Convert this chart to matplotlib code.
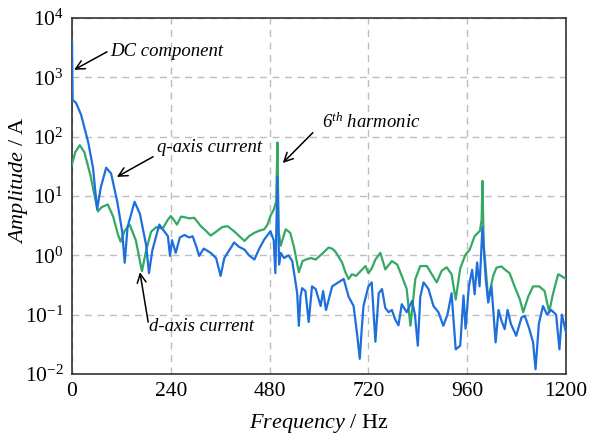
import numpy as np
import matplotlib
matplotlib.use("Agg")
import matplotlib.pyplot as plt

plt.rcParams['font.family'] = ['Liberation Serif', 'DejaVu Serif']
plt.rcParams['mathtext.fontset'] = 'custom'
plt.rcParams['mathtext.rm'] = 'Liberation Serif'
plt.rcParams['mathtext.it'] = 'Liberation Serif:italic'

# q-axis current spectrum (blue)
q_freq = [0, 1.5, 10, 22, 39, 51, 61, 70, 83, 95, 110, 122, 128, 135, 152, 165, 180, 187,
          195, 212, 225, 233, 238, 243, 252, 262, 273, 285, 293, 302, 309, 320, 337, 350,
          361, 370, 378, 394, 405, 419, 430, 443, 455, 467, 482, 490, 494, 499, 503, 507,
          515, 526, 535, 547, 551, 555, 559, 567, 575, 583, 592, 604, 610, 617, 632, 647,
          660, 672, 684, 693, 699, 704, 708, 720, 728, 733, 737, 745, 753, 761, 769, 777,
          785, 793, 801, 813, 826, 833, 840, 846, 854, 866, 878, 890, 902, 912, 922, 932,
          943, 951, 956, 964, 972, 978, 984, 990, 997, 1005, 1011, 1019, 1029, 1036, 1043,
          1051, 1058, 1066, 1079, 1092, 1100, 1110, 1120, 1126, 1134, 1144, 1154, 1164,
          1176, 1184, 1190, 1200]
q_amp = [4000, 420, 370, 235, 83, 30, 6, 14, 30, 24, 8, 2.5, 0.75, 3, 8, 5, 1.5, 0.5,
         1.2, 3.3, 2.5, 2.1, 0.98, 1.8, 1.1, 2.0, 2.2, 2.0, 2.1, 1.4, 0.98, 1.3, 1.1, 0.9,
         0.45, 0.9, 1.1, 1.65, 1.4, 1.25, 1.0, 0.85, 1.3, 1.85, 2.55, 1.8, 0.5, 21, 0.7, 1.1,
         0.9, 1.0, 0.8, 0.23, 0.065, 0.2, 0.28, 0.25, 0.075, 0.3, 0.27, 0.14, 0.25, 0.12, 0.3, 0.35,
         0.4, 0.2, 0.14, 0.044, 0.018, 0.06, 0.14, 0.3, 0.35, 0.1, 0.035, 0.23, 0.27, 0.13, 0.11, 0.12,
         0.083, 0.066, 0.15, 0.11, 0.17, 0.1, 0.03, 0.2, 0.35, 0.27, 0.14, 0.11, 0.065, 0.1, 0.23, 0.026,
         0.03, 0.21, 0.058, 0.3, 0.57, 0.22, 0.76, 0.3, 3.0, 0.4, 0.16, 0.3, 0.034, 0.12, 0.08,
         0.057, 0.12, 0.07, 0.044, 0.09, 0.095, 0.06, 0.034, 0.012, 0.07, 0.14, 0.1, 0.12,
         0.1, 0.026, 0.1, 0.05]

# d-axis current spectrum (green)
d_freq = [0, 8, 19, 30, 45, 55, 63, 72, 87, 100, 112, 118, 128, 140, 155, 165, 170, 180,
          192, 205, 220, 233, 240, 247, 255, 265, 273, 285, 297, 313, 325, 337, 350, 365,
          378, 395, 410, 419, 430, 443, 455, 467, 475, 482, 490, 496, 499, 502, 507, 519,
          530, 539, 551, 560, 568, 580, 592, 610, 623, 632, 640, 656, 665, 672, 680, 690,
          705, 713, 720, 728, 737, 749, 761, 777, 790, 801, 813, 822, 834, 846, 862, 874,
          886, 898, 910, 922, 932, 943, 955, 966, 978, 991, 995, 997, 1000, 1005, 1011,
          1023, 1031, 1043, 1055, 1063, 1075, 1088, 1096, 1108, 1120, 1135, 1148, 1159,
          1168, 1181, 1193, 1200]
d_amp = [34, 55, 72, 55, 22, 10, 5.5, 6.5, 7.2, 4.5, 2.2, 1.7, 2.6, 3.3, 1.8, 0.8, 0.54, 1.2,
         2.5, 3.0, 2.8, 4.0, 4.6, 4.0, 3.3, 4.5, 4.4, 4.2, 4.3, 3.1, 2.6, 2.15, 2.5, 3.0,
         3.1, 2.5, 2.0, 1.75, 2.1, 2.4, 2.6, 2.75, 3.3, 4.6, 5.9, 8, 80, 2.5, 1.45, 2.75,
         2.4, 1.4, 0.52, 0.8, 0.85, 0.9, 0.85, 1.1, 1.35, 1.3, 1.15, 0.76, 0.5, 0.4, 0.48, 0.45,
         0.58, 0.66, 0.5, 0.6, 0.85, 1.1, 0.58, 0.8, 0.7, 0.45, 0.27, 0.065, 0.4, 0.66, 0.66, 0.48,
         0.35, 0.55, 0.63, 0.48, 0.18, 0.6, 1.0, 1.25, 2.1, 2.6, 4, 18, 1.5, 0.6, 0.18,
         0.45, 0.62, 0.65, 0.55, 0.5, 0.3, 0.18, 0.11, 0.2, 0.3, 0.3, 0.25, 0.11,
         0.22, 0.48, 0.43, 0.4]

x_ticks = [0, 240, 480, 720, 960, 1200]

fig = plt.figure(figsize=(5.94, 4.41), dpi=100)
ax = fig.add_axes([0.1212, 0.152, 0.8317, 0.807])

ax.plot(d_freq, d_amp, color='#34a865', lw=1.6, zorder=3)
ax.plot(q_freq, q_amp, color='#1e6fdc', lw=1.6, zorder=4)

ax.set_yscale('log')
ax.set_xlim(0, 1200)
ax.set_ylim(1e-2, 1e4)
ax.set_xticks(x_ticks)
ax.set_xticklabels([str(v) for v in x_ticks])
ax.set_yticks([10.0**k for k in range(-2, 5)])
ax.set_yticklabels([r'$\mathrm{10^{%d}}$' % k for k in range(-2, 5)])
ax.yaxis.set_minor_locator(matplotlib.ticker.NullLocator())
ax.tick_params(length=0, labelsize=15.5, pad=6)
ax.grid(True, ls=(0, (5, 4)), color='#bdbdbd', lw=1.0)
for s in ax.spines.values():
    s.set_color('#333333')
    s.set_linewidth(1.2)

ax.set_xlabel(r'$\it{Frequency}$ / Hz', fontsize=16, labelpad=8)
ax.set_ylabel(r'$\it{Amplitude}$ / A', fontsize=16)
ax.yaxis.set_label_coords(-0.085, 0.545)

arrow = dict(arrowstyle='->', color='black', lw=1.1, mutation_scale=16,
             shrinkA=0, shrinkB=0)
tfont = dict(fontsize=13.5, style='italic', va='center', ha='left')

ax.annotate('', xy=(5, 1340), xytext=(85, 2700), arrowprops=arrow)
ax.text(92, 2700, 'DC component', **tfont)

ax.annotate('', xy=(109, 21), xytext=(197, 46), arrowprops=arrow)
ax.text(206, 65, 'q-axis current', **tfont)

ax.annotate('', xy=(512, 36), xytext=(585, 117), arrowprops=arrow)
ax.text(607, 172, r'6$^{th}$ harmonic', **tfont)

ax.annotate('', xy=(165, 0.52), xytext=(185, 0.075), arrowprops=arrow)
ax.text(188, 0.062, 'd-axis current', **tfont)

fig.savefig('out.png', dpi=100)
